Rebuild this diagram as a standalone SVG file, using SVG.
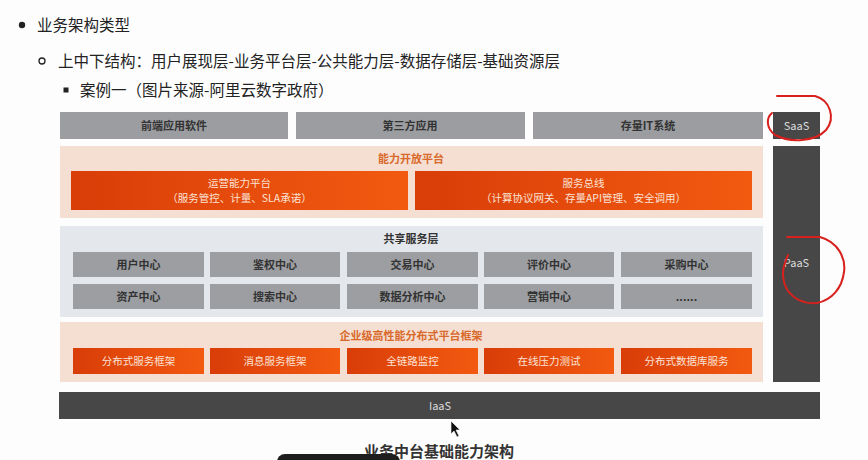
<svg xmlns="http://www.w3.org/2000/svg" width="868" height="460" viewBox="0 0 868 460">
<defs>
<linearGradient id="og" x1="0" y1="0" x2="1" y2="0">
<stop offset="0" stop-color="#d93d08"/>
<stop offset="1" stop-color="#f25a10"/>
</linearGradient>
<style>
text{font-family:"Noto Sans CJK SC","Liberation Sans",sans-serif;}
.h{font-size:15.5px;fill:#222;}
.top{fill:#9b9da1;}
.tt{font-size:11px;font-weight:bold;fill:#333;text-anchor:middle;}
.dark{fill:#474747;}
.dt{font-size:11px;fill:#ddd;text-anchor:middle;}
.peach{fill:#f4dfd2;}
.gray{fill:#e4e7eb;}
.ob{fill:url(#og);}
.ot{font-size:10.5px;fill:#fbe3d6;text-anchor:middle;}
.ptitle{font-size:11px;fill:#d9692a;text-anchor:middle;font-weight:bold;}
.gtitle{font-size:11px;fill:#333;text-anchor:middle;font-weight:bold;}
.gb{fill:#9c9ea2;}
.gt{font-size:11px;font-weight:bold;fill:#333;text-anchor:middle;}
.red{fill:none;stroke:#d8201c;stroke-width:2;stroke-linecap:round;}
</style>
</defs>
<rect width="868" height="460" fill="#fdfdfd"/>

<g id="heading">
<circle cx="22" cy="25" r="3.2" fill="#222"/>
<text class="h" x="37" y="31">业务架构类型</text>
<circle cx="42" cy="61" r="3" fill="none" stroke="#222" stroke-width="1.3"/>
<text class="h" x="58" y="67">上中下结构：用户展现层-业务平台层-公共能力层-数据存储层-基础资源层</text>
<rect x="63.5" y="87.5" width="5" height="5" fill="#222"/>
<text class="h" x="80" y="96">案例一（图片来源-阿里云数字政府）</text>
</g>

<g id="saas-row">
<g id="frontend"><rect class="top" x="60" y="112" width="228" height="27"/><text class="tt" x="174" y="130">前端应用软件</text></g>
<g id="thirdparty"><rect class="top" x="296" y="112" width="229" height="27"/><text class="tt" x="410" y="130">第三方应用</text></g>
<g id="legacy"><rect class="top" x="533" y="112" width="230" height="27"/><text class="tt" x="648" y="130">存量IT系统</text></g>
<g id="saas"><rect class="dark" x="773" y="112" width="47" height="27"/><text class="dt" x="796.5" y="130">SaaS</text></g>
</g>

<g id="paas"><rect class="dark" x="773" y="146" width="47" height="236"/><text class="dt" x="796.5" y="267">PaaS</text></g>

<g id="open-platform">
<rect class="peach" x="60" y="146" width="703" height="72"/>
<text class="ptitle" x="411" y="163">能力开放平台</text>
<g id="ops"><rect class="ob" x="71" y="171" width="337" height="39"/><text class="ot" x="239.5" y="187">运营能力平台</text><text class="ot" x="239.5" y="202">（服务管控、计量、SLA承诺）</text></g>
<g id="bus"><rect class="ob" x="415" y="171" width="337" height="39"/><text class="ot" x="583.5" y="187">服务总线</text><text class="ot" x="583.5" y="202">（计算协议网关、存量API管理、安全调用）</text></g>
</g>

<g id="shared">
<rect class="gray" x="60" y="226" width="703" height="91"/>
<text class="gtitle" x="411" y="243">共享服务层</text>
<g id="c1"><rect class="gb" x="73" y="252" width="131" height="25"/><text class="gt" x="138.5" y="268.5">用户中心</text></g>
<g id="c2"><rect class="gb" x="210" y="252" width="130" height="25"/><text class="gt" x="275" y="268.5">鉴权中心</text></g>
<g id="c3"><rect class="gb" x="347" y="252" width="131" height="25"/><text class="gt" x="412.5" y="268.5">交易中心</text></g>
<g id="c4"><rect class="gb" x="484" y="252" width="130" height="25"/><text class="gt" x="549" y="268.5">评价中心</text></g>
<g id="c5"><rect class="gb" x="621" y="252" width="131" height="25"/><text class="gt" x="686.5" y="268.5">采购中心</text></g>
<g id="c6"><rect class="gb" x="73" y="284" width="131" height="25"/><text class="gt" x="138.5" y="300.5">资产中心</text></g>
<g id="c7"><rect class="gb" x="210" y="284" width="130" height="25"/><text class="gt" x="275" y="300.5">搜索中心</text></g>
<g id="c8"><rect class="gb" x="347" y="284" width="131" height="25"/><text class="gt" x="412.5" y="300.5">数据分析中心</text></g>
<g id="c9"><rect class="gb" x="484" y="284" width="130" height="25"/><text class="gt" x="549" y="300.5">营销中心</text></g>
<g id="c10"><rect class="gb" x="621" y="284" width="131" height="25"/><text class="gt" x="686.5" y="300.5">......</text></g>
</g>

<g id="framework">
<rect class="peach" x="60" y="322" width="703" height="60"/>
<text class="ptitle" x="411" y="340">企业级高性能分布式平台框架</text>
<g id="f1"><rect class="ob" x="73" y="348" width="131" height="26"/><text class="ot" x="138.5" y="365">分布式服务框架</text></g>
<g id="f2"><rect class="ob" x="210" y="348" width="130" height="26"/><text class="ot" x="275" y="365">消息服务框架</text></g>
<g id="f3"><rect class="ob" x="347" y="348" width="131" height="26"/><text class="ot" x="412.5" y="365">全链路监控</text></g>
<g id="f4"><rect class="ob" x="484" y="348" width="130" height="26"/><text class="ot" x="549" y="365">在线压力测试</text></g>
<g id="f5"><rect class="ob" x="621" y="348" width="131" height="26"/><text class="ot" x="686.5" y="365">分布式数据库服务</text></g>
</g>

<g id="iaas"><rect class="dark" x="59" y="392" width="761" height="27"/><text class="dt" x="440" y="410">IaaS</text></g>

<text x="439" y="457" font-size="15" font-weight="bold" fill="#333" text-anchor="middle" font-family="Noto Sans CJK SC, sans-serif">业务中台基础能力架构</text>
<rect x="277" y="454" width="123" height="16" rx="8" fill="#1e1e1e"/>

<g id="annotations">
<path class="red" d="M777,96 L815,96 C830,100 836,118 826,130 C815,142 790,143 775,135 C766,128 766,118 772,113"/>
<path class="red" d="M787,237 L820,237 C838,242 846,258 844,272 C842,288 832,300 817,303 C805,304 795,300 788,291 C782,282 782,270 785,263 C786,259 787,257 788,255"/>
<path d="M451,421 L451,434 L454,431 L457,437 L459,436 L456,430 L460,430 Z" fill="#111" stroke="#fff" stroke-width="0.6"/>
</g>
</svg>
